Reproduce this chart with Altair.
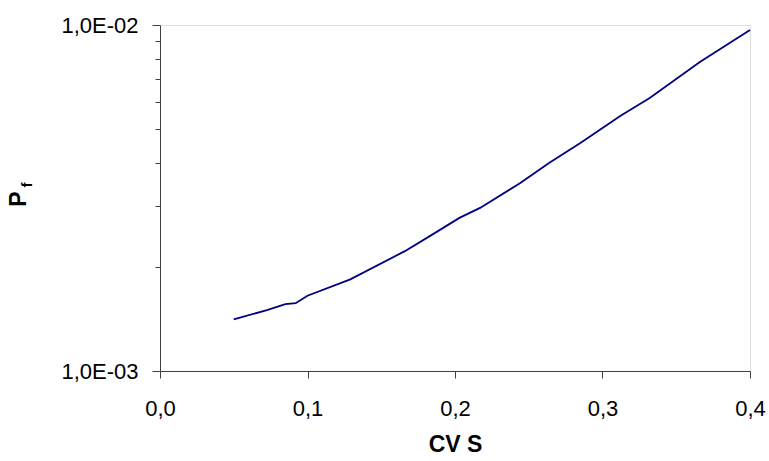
import altair as alt
import pandas as pd

# Data
cv_s = [0.05, 0.0725, 0.085, 0.092, 0.10, 0.129, 0.166, 0.184, 0.203, 0.217,
        0.244, 0.264, 0.285, 0.312, 0.332, 0.366, 0.40]
p_f = [1.41e-3, 1.50e-3, 1.56e-3, 1.57e-3, 1.65e-3, 1.84e-3, 2.22e-3, 2.47e-3,
       2.77e-3, 2.96e-3, 3.49e-3, 4.00e-3, 4.56e-3, 5.46e-3, 6.15e-3, 7.82e-3,
       9.68e-3]

x_ticks = [0.0, 0.1, 0.2, 0.3, 0.4]
x_labels = ["0,0", "0,1", "0,2", "0,3", "0,4"]
y_major = [0.001, 0.01]
y_major_labels = ["1,0E-03", "1,0E-02"]
y_minor = [0.002, 0.003, 0.004, 0.005, 0.006, 0.007, 0.008, 0.009]

df = pd.DataFrame({"cv": cv_s, "pf": p_f})

FONT = "Liberation Sans"
AXIS_COLOR = "#404040"

x_label_expr = " : ".join(
    [f"abs(datum.value - {v}) < 1e-9 ? '{l}'" for v, l in zip(x_ticks, x_labels)]
) + " : ''"
y_label_expr = " : ".join(
    [f"abs(datum.value - {v}) < 1e-12 ? '{l}'" for v, l in zip(y_major, y_major_labels)]
) + " : ''"
major_test = " || ".join([f"abs(datum.value - {v}) < 1e-12" for v in y_major])

line = alt.Chart(df).mark_line(color="#000080", strokeWidth=1.8).encode(
    x=alt.X(
        "cv:Q",
        scale=alt.Scale(domain=[0, 0.4], nice=False, zero=False),
        axis=alt.Axis(
            values=x_ticks,
            labelExpr=x_label_expr,
            title="CV S",
            grid=False,
            tickSize=7,
            labelPadding=20,
            labelFontSize=22,
            labelFont=FONT,
            labelColor="#000000",
            titleFont=FONT,
            titleFontSize=23,
            titleFontWeight="bold",
            titleColor="#000000",
            titlePadding=14,
            domainColor=AXIS_COLOR,
            tickColor=AXIS_COLOR,
            labelFlush=False,
        ),
    ),
    y=alt.Y(
        "pf:Q",
        scale=alt.Scale(type="log", domain=[0.001, 0.01], nice=False),
        axis=alt.Axis(
            values=sorted(y_major + y_minor),
            labelExpr=y_label_expr,
            title=None,
            grid=False,
            tickSize={"condition": {"test": major_test, "value": 8}, "value": 5},
            labelPadding=14,
            labelFontSize=22,
            labelFont=FONT,
            labelColor="#000000",
            domainColor=AXIS_COLOR,
            tickColor=AXIS_COLOR,
            labelFlush=False,
            labelOverlap=False,
        ),
    ),
)

title_df = pd.DataFrame({"t": ["P"]})
p_text = alt.Chart(title_df).mark_text(
    angle=270, fontSize=23, fontWeight="bold", font=FONT, color="#000000",
    align="center", baseline="middle"
).encode(text="t:N", x=alt.value(-141), y=alt.value(174))

sub_df = pd.DataFrame({"t": ["f"]})
f_text = alt.Chart(sub_df).mark_text(
    angle=270, fontSize=15, fontWeight="bold", font=FONT, color="#000000",
    align="center", baseline="middle"
).encode(text="t:N", x=alt.value(-133), y=alt.value(160))

chart = alt.layer(line, p_text, f_text).properties(
    width=590,
    height=346,
    autosize=alt.AutoSizeParams(type="none"),
    padding={"left": 160, "top": 25, "right": 19, "bottom": 90},
).configure_view(stroke=None).configure(background="#ffffff")

chart.save("out.html", embed_options={"renderer": "svg", "actions": False})
